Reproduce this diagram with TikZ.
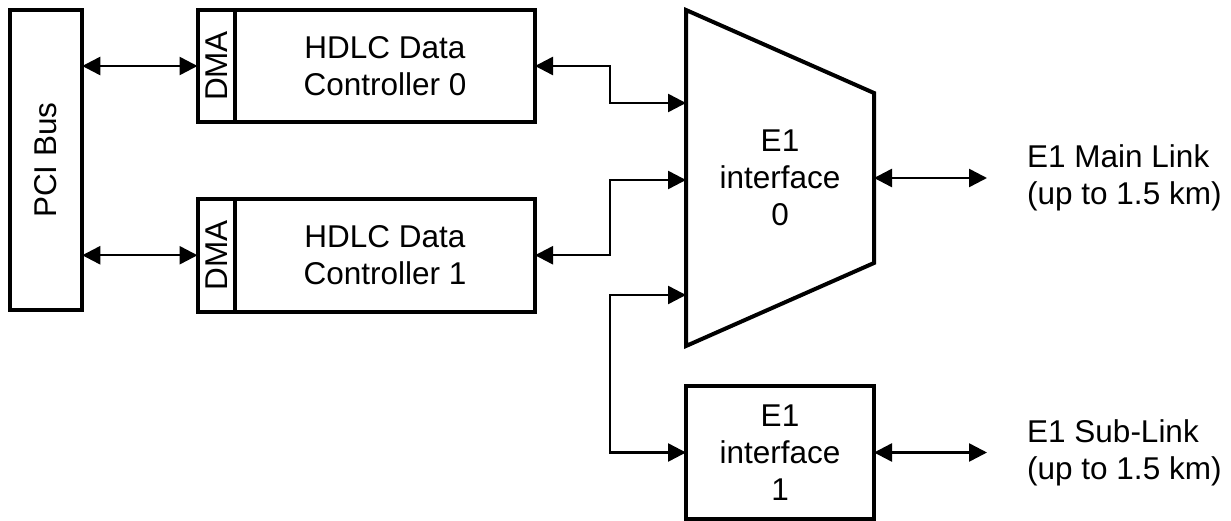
\documentclass[tikz,border=0pt]{standalone}
\usepackage{fontspec}
\setmainfont{Liberation Sans}
\usetikzlibrary{arrows.meta,calc,positioning}

\begin{document}
\begin{tikzpicture}[x=1pt, y=-1pt,
  box/.style={draw=black, line width=4pt, inner sep=0pt, outer sep=0pt, align=center, font=\fontsize{31.5}{37}\selectfont},
  link/.style={line width=2.5pt, {Triangle[length=18pt,width=18pt]}-{Triangle[length=18pt,width=18pt]}},
  lbl/.style={inner sep=0pt, align=left, font=\fontsize{31.5}{37}\selectfont}]

  \useasboundingbox (0,0) rectangle (1231,521);

  % PCI
  \node[box, minimum width=72.5pt, minimum height=300pt] (pci) at (46,160) {\rotatebox{90}{PCI Bus}};

  % HDLC 0
  \node[box, minimum width=37.5pt, minimum height=112pt] (dma0) at (216.25,66) {\rotatebox{90}{DMA}};
  \node[box, minimum width=300pt, minimum height=112pt, right=0pt of dma0] (hdlc0) {HDLC Data\\Controller 0};

  % HDLC 1
  \node[box, minimum width=37.5pt, minimum height=112.5pt] (dma1) at (216.25,255.25) {\rotatebox{90}{DMA}};
  \node[box, minimum width=300pt, minimum height=112.5pt, right=0pt of dma1] (hdlc1) {HDLC Data\\Controller 1};

  % E1 0
  \node[box, draw=none, minimum width=188pt, minimum height=336pt] (if0) at (780,178) {E1\\interface\\0};
  \draw[line width=4pt] (if0.north west) -- ($(if0.north east)+(0,83)$) -- ($(if0.south east)+(0,-83)$) -- (if0.south west) -- cycle;

  % E1 1
  \node[box, minimum width=188pt, minimum height=133pt, below=40pt of if0] (if1) {E1\\interface\\1};

  % lines out
  \node[lbl, right=153pt of if0] (main) {E1 Main Link\\(up to 1.5 km)};
  \node[lbl, right=153pt of if1] (sub) {E1 Sub-Link\\(up to 1.5 km)};

  \draw[link] (dma0.west -| pci.east) -- (dma0.west);
  \draw[link] (dma1.west -| pci.east) -- (dma1.west);

  \draw[link] (hdlc0.east) -- ++(75,0) |- ($(if0.west)+(0,-75)$);
  \draw[link] (hdlc1.east) -- ++(75,0) |- ($(if0.west)+(0,2)$);
  \draw[link] ($(if0.west)+(0,117)$) -- ++(-76,0) |- (if1.west);

  \draw[link, shorten >=40pt] (if0.east) -- (main.west);
  \draw[link, shorten >=40pt] (if1.east) -- (sub.west);

\end{tikzpicture}
\end{document}
